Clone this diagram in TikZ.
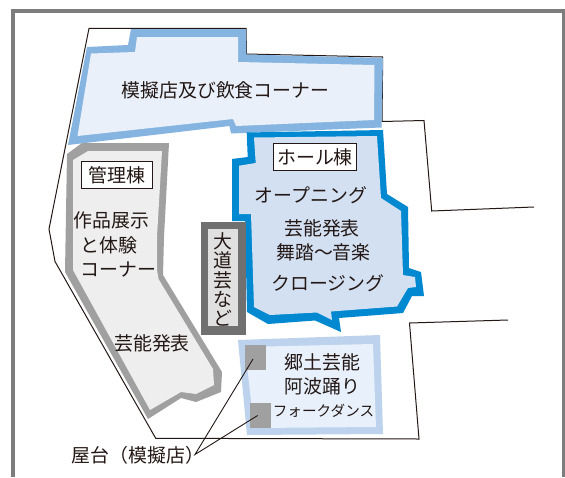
\documentclass[tikz,border=0pt]{standalone}
\usepackage{fontspec}
\setmainfont{Noto Sans CJK JP}
\definecolor{ink}{HTML}{231815}
\definecolor{framegrey}{HTML}{7D7D7D}
\definecolor{bluea}{HTML}{85B4E0}
\definecolor{blueafill}{HTML}{E9F0FA}
\definecolor{blueb}{HTML}{0088D0}
\definecolor{bluebfill}{HTML}{D3E0F2}
\definecolor{greya}{HTML}{A0A0A0}
\definecolor{greyafill}{HTML}{EEEEEE}
\definecolor{greyb}{HTML}{707070}
\definecolor{greybfill}{HTML}{DFE0DF}
\definecolor{bluec}{HTML}{BDD2EC}
\definecolor{bluecfill}{HTML}{E8F0FB}
\tikzset{
  txt/.style={text=ink,inner sep=0pt,font=\fontsize{18.9}{22}\selectfont,align=center},
  tag/.style={txt,draw=ink,line width=.8pt,fill=white,inner sep=0pt},
  thin line/.style={draw=ink,line width=1pt},
  leader/.style={draw=ink,line width=.9pt}
}
\begin{document}
\begin{tikzpicture}[x=1pt,y=-1pt]
\useasboundingbox (0,0) rectangle (565,477);
\fill[white] (0,0) rectangle (565,477);
% frame
\draw[framegrey,line width=3.8pt] (12.7,477) -- (12.7,11) -- (563.4,11) -- (563.4,477);
% site outline
\draw[thin line,line join=miter] (534,207) -- (431.7,211) -- (424,120.5) -- (382,121.5) -- (382.7,57) -- (246.5,54) -- (246,28.3) -- (89,28.3) -- (49,229) -- (55,261.5) -- (155.7,438.3) -- (419,439) -- (409.5,323) -- (508,320);
% shop corner
\fill[bluea] (68,145) -- (87,47) -- (128,45) -- (131,29) -- (246,29) -- (246.5,54.5) -- (383,58) -- (381.5,127.5) -- (231,133.5) -- (229.5,126) -- cycle;
\fill[blueafill] (77.5,136) -- (91,53.5) -- (135,52) -- (137,37) -- (238,37) -- (238,62) -- (374.5,65) -- (374,120) -- (236,126) -- (233,119) -- cycle;
% admin
\fill[greya] (67,154) -- (82,143) -- (169,143) -- (164,237) -- (163,275) -- (222,372) -- (221,392) -- (196,402) -- (181,398) -- (148,419) -- (65,272) -- cycle;
\fill[greyafill] (73,160) -- (88,151) -- (162,151) -- (157,237) -- (157,270) -- (158.5,279) -- (213,369) -- (214,385) -- (196,394) -- (181,392) -- (150,410) -- (73,270) -- cycle;
% hall
\fill[blueb] (246.7,132.5) -- (383,130) -- (387,194) -- (408,207) -- (409,268) -- (421,272) -- (424,296) -- (412,296) -- (403,313) -- (339,318) -- (341,332) -- (315,320.5) -- (268,324) -- (247,312) -- (245,221) -- (232,221) -- (232,159) -- (247.7,157) -- cycle;
\fill[bluebfill] (254,137.5) -- (377,136) -- (381,198) -- (401,211) -- (403,275) -- (415,277) -- (416,287) -- (408,288) -- (397,306.5) -- (331,311.5) -- (332,320) -- (317,312.5) -- (270,315) -- (254,307) -- (251,214) -- (239,214) -- (239,165.7) -- (255.7,163) -- cycle;
% street performance
\fill[greyb] (200.7,221.7) rectangle (246,334.7);
\fill[greybfill] (208,228.5) rectangle (238,326);
% folk
\fill[bluec] (238,340) -- (380,335) -- (383,434) -- (247,435) -- cycle;
\fill[bluecfill] (245,347) -- (373,344) -- (376,427) -- (254,428) -- cycle;
\fill[greya] (245,345) rectangle (266,370);
\fill[greya] (250,403) rectangle (271,428);
% texts
\node[txt] (shop) at (225.5,90) {模擬店及び飲食コーナー};
\node[tag,minimum width=71.7pt,minimum height=26.3pt] (admin) at (116.8,174.8) {管理棟};
\node[txt,anchor=north west] (exhibit1) at (73.5,211) {作品展示};
\node[txt,anchor=north west] (exhibit2) at (80.5,236) {と体験};
\node[txt,anchor=north west] (exhibit3) at (80.5,262) {コーナー};
\node[txt] (adminstage) at (152,343) {芸能発表};
\node[txt] (daido1) at (222.5,241) {大};
\node[txt] (daido2) at (222.5,260.5) {道};
\node[txt] (daido3) at (222.5,280) {芸};
\node[txt] (daido4) at (222.5,299) {な};
\node[txt] (daido5) at (222.5,318) {ど};
\node[tag,minimum width=83.7pt,minimum height=27.4pt] (hall) at (315,157) {ホール棟};
\node[txt] (open) at (311,195) {オープニング};
\node[txt] (stage) at (322,228) {芸能発表};
\node[txt] (dance) at (323.5,252) {舞踏〜音楽};
\node[txt] (close) at (328,283) {クロージング};
\node[txt] (folk1) at (322.5,362) {郷土芸能};
\node[txt] (folk2) at (322.5,386) {阿波踊り};
\node[txt,font=\fontsize{14.6}{19}\selectfont] (folk3) at (323.5,410.5) {フォークダンス};
\node[txt,anchor=west] (stalls) at (71.5,455) {屋台（模擬店）};
\coordinate (stallsend) at (195,454.5);
\coordinate (stallA) at (253,359);
\coordinate (stallB) at (257.6,415.5);
\draw[leader] (stallA) -- (stallsend) -- (stallB);
\end{tikzpicture}
\end{document}
